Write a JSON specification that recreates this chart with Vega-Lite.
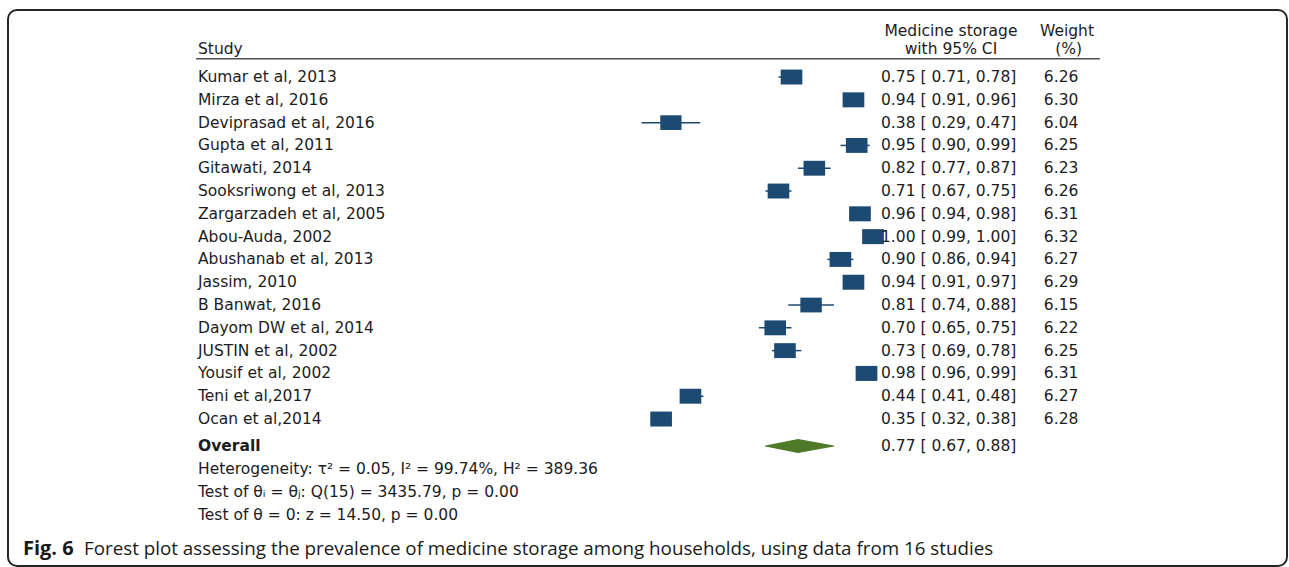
{
  "$schema": "https://vega.github.io/schema/vega-lite/v6.json",
  "width": 1279,
  "height": 556,
  "autosize": {"type": "none"},
  "padding": {"left": 8, "top": 10, "right": 2, "bottom": 1},
  "background": "white",
  "config": {
    "view": {"stroke": "#262626", "strokeWidth": 2, "cornerRadius": 9},
    "axis": {"disable": true},
    "text": {"font": "DejaVu Sans", "fontSize": 15.5, "fill": "#1c1c1c", "baseline": "middle"}
  },
  "datasets": {
    "studies": [
      {"row": 1, "study": "Kumar et al, 2013", "est": 0.75, "lo": 0.71, "hi": 0.78, "ci": "0.75 [ 0.71, 0.78]", "weight": 6.26},
      {"row": 2, "study": "Mirza et al, 2016", "est": 0.94, "lo": 0.91, "hi": 0.96, "ci": "0.94 [ 0.91, 0.96]", "weight": 6.30},
      {"row": 3, "study": "Deviprasad et al, 2016", "est": 0.38, "lo": 0.29, "hi": 0.47, "ci": "0.38 [ 0.29, 0.47]", "weight": 6.04},
      {"row": 4, "study": "Gupta et al, 2011", "est": 0.95, "lo": 0.90, "hi": 0.99, "ci": "0.95 [ 0.90, 0.99]", "weight": 6.25},
      {"row": 5, "study": "Gitawati, 2014", "est": 0.82, "lo": 0.77, "hi": 0.87, "ci": "0.82 [ 0.77, 0.87]", "weight": 6.23},
      {"row": 6, "study": "Sooksriwong et al, 2013", "est": 0.71, "lo": 0.67, "hi": 0.75, "ci": "0.71 [ 0.67, 0.75]", "weight": 6.26},
      {"row": 7, "study": "Zargarzadeh et al, 2005", "est": 0.96, "lo": 0.94, "hi": 0.98, "ci": "0.96 [ 0.94, 0.98]", "weight": 6.31},
      {"row": 8, "study": "Abou-Auda, 2002", "est": 1.00, "lo": 0.99, "hi": 1.00, "ci": "1.00 [ 0.99, 1.00]", "weight": 6.32},
      {"row": 9, "study": "Abushanab et al, 2013", "est": 0.90, "lo": 0.86, "hi": 0.94, "ci": "0.90 [ 0.86, 0.94]", "weight": 6.27},
      {"row": 10, "study": "Jassim, 2010", "est": 0.94, "lo": 0.91, "hi": 0.97, "ci": "0.94 [ 0.91, 0.97]", "weight": 6.29},
      {"row": 11, "study": "B Banwat, 2016", "est": 0.81, "lo": 0.74, "hi": 0.88, "ci": "0.81 [ 0.74, 0.88]", "weight": 6.15},
      {"row": 12, "study": "Dayom DW et al, 2014", "est": 0.70, "lo": 0.65, "hi": 0.75, "ci": "0.70 [ 0.65, 0.75]", "weight": 6.22},
      {"row": 13, "study": "JUSTIN et al, 2002", "est": 0.73, "lo": 0.69, "hi": 0.78, "ci": "0.73 [ 0.69, 0.78]", "weight": 6.25},
      {"row": 14, "study": "Yousif et al, 2002", "est": 0.98, "lo": 0.96, "hi": 0.99, "ci": "0.98 [ 0.96, 0.99]", "weight": 6.31},
      {"row": 15, "study": "Teni et al,2017", "est": 0.44, "lo": 0.41, "hi": 0.48, "ci": "0.44 [ 0.41, 0.48]", "weight": 6.27},
      {"row": 16, "study": "Ocan et al,2014", "est": 0.35, "lo": 0.32, "hi": 0.38, "ci": "0.35 [ 0.32, 0.38]", "weight": 6.28}
    ],
    "overall": [
      {"study": "Overall", "est": 0.77, "lo": 0.67, "hi": 0.88, "ci": "0.77 [ 0.67, 0.88]"}
    ],
    "one": [{}]
  },
  "layer": [
    {
      "data": {"name": "studies"},
      "mark": {"type": "rule", "color": "#1d4a72", "strokeWidth": 1.5},
      "encoding": {
        "x": {"field": "lo", "type": "quantitative", "axis": null, "scale": {"domain": [-1.6534, 2.2699], "nice": false, "zero": false}},
        "x2": {"field": "hi"},
        "y": {"field": "row", "type": "quantitative", "axis": null, "scale": {"domain": [-1.94, 22.446], "reverse": true, "nice": false, "zero": false}}
      }
    },
    {
      "data": {"name": "studies"},
      "mark": {"type": "point", "shape": "M-1.45,-1H1.45V1H-1.45Z", "filled": true, "color": "#1d4a72", "opacity": 1},
      "encoding": {
        "x": {"field": "est", "type": "quantitative"},
        "y": {"field": "row", "type": "quantitative"},
        "size": {"field": "weight", "type": "quantitative", "scale": {"domain": [0, 6.32], "range": [0, 225]}, "legend": null}
      }
    },
    {
      "data": {"name": "studies"},
      "mark": {"type": "text", "align": "left"},
      "encoding": {
        "x": {"datum": -1.0706},
        "y": {"field": "row", "type": "quantitative"},
        "text": {"field": "study"}
      }
    },
    {
      "data": {"name": "studies"},
      "mark": {"type": "text", "align": "left"},
      "encoding": {
        "x": {"datum": 1.0245},
        "y": {"field": "row", "type": "quantitative"},
        "text": {"field": "ci"}
      }
    },
    {
      "data": {"name": "studies"},
      "mark": {"type": "text", "align": "center"},
      "encoding": {
        "x": {"datum": 1.577},
        "y": {"field": "row", "type": "quantitative"},
        "text": {"field": "weight", "format": ".2f"}
      }
    },
    {
      "data": {"name": "overall"},
      "transform": [{"fold": ["lo", "est", "hi"], "as": ["pt", "xv"]}],
      "mark": {"type": "trail", "color": "#4e7a29"},
      "encoding": {
        "x": {"field": "xv", "type": "quantitative"},
        "y": {"datum": 17.18},
        "size": {"condition": {"test": "datum.pt == 'est'", "value": 14}, "value": 0}
      }
    },
    {
      "data": {"name": "overall"},
      "mark": {"type": "text", "align": "left", "fontWeight": "bold"},
      "encoding": {"x": {"datum": -1.0706}, "y": {"datum": 17.18}, "text": {"field": "study"}}
    },
    {
      "data": {"name": "overall"},
      "mark": {"type": "text", "align": "left"},
      "encoding": {"x": {"datum": 1.0245}, "y": {"datum": 17.18}, "text": {"field": "ci"}}
    },
    {
      "data": {"name": "one"},
      "mark": {"type": "text", "align": "left", "text": "Study"},
      "encoding": {"x": {"datum": -1.0706}, "y": {"datum": -0.228}}
    },
    {
      "data": {"name": "one"},
      "mark": {"type": "text", "align": "center", "text": "Medicine storage"},
      "encoding": {"x": {"datum": 1.239}, "y": {"datum": -1.018}}
    },
    {
      "data": {"name": "one"},
      "mark": {"type": "text", "align": "center", "text": "with 95% CI"},
      "encoding": {"x": {"datum": 1.239}, "y": {"datum": -0.228}}
    },
    {
      "data": {"name": "one"},
      "mark": {"type": "text", "align": "center", "text": "Weight"},
      "encoding": {"x": {"datum": 1.595}, "y": {"datum": -1.018}}
    },
    {
      "data": {"name": "one"},
      "mark": {"type": "text", "align": "center", "text": "(%)"},
      "encoding": {"x": {"datum": 1.6}, "y": {"datum": -0.228}}
    },
    {
      "data": {"name": "one"},
      "mark": {"type": "rule", "color": "#4d4d4d", "strokeWidth": 1.5},
      "encoding": {"x": {"datum": -1.0767}, "x2": {"datum": 1.696}, "y": {"datum": 0.197}}
    },
    {
      "data": {"name": "one"},
      "mark": {"type": "text", "align": "left", "text": "Heterogeneity: τ² = 0.05, I² = 99.74%, H² = 389.36"},
      "encoding": {"x": {"datum": -1.0706}, "y": {"datum": 18.19}}
    },
    {
      "data": {"name": "one"},
      "mark": {"type": "text", "align": "left", "text": "Test of θᵢ = θⱼ: Q(15) = 3435.79, p = 0.00"},
      "encoding": {"x": {"datum": -1.0706}, "y": {"datum": 19.19}}
    },
    {
      "data": {"name": "one"},
      "mark": {"type": "text", "align": "left", "text": "Test of θ = 0: z = 14.50, p = 0.00"},
      "encoding": {"x": {"datum": -1.0706}, "y": {"datum": 20.2}}
    },
    {
      "data": {"name": "one"},
      "mark": {"type": "text", "align": "left", "text": "Fig. 6", "font": "Open Sans", "fontSize": 20, "fontWeight": "bold", "fill": "#1a1a1a"},
      "encoding": {"x": {"datum": -1.6074}, "y": {"datum": 21.7}}
    },
    {
      "data": {"name": "one"},
      "mark": {"type": "text", "align": "left", "text": "Forest plot assessing the prevalence of medicine storage among households, using data from 16 studies", "font": "Open Sans", "fontSize": 18.8, "fill": "#1a1a1a"},
      "encoding": {"x": {"datum": -1.4203}, "y": {"datum": 21.7}}
    }
  ]
}
